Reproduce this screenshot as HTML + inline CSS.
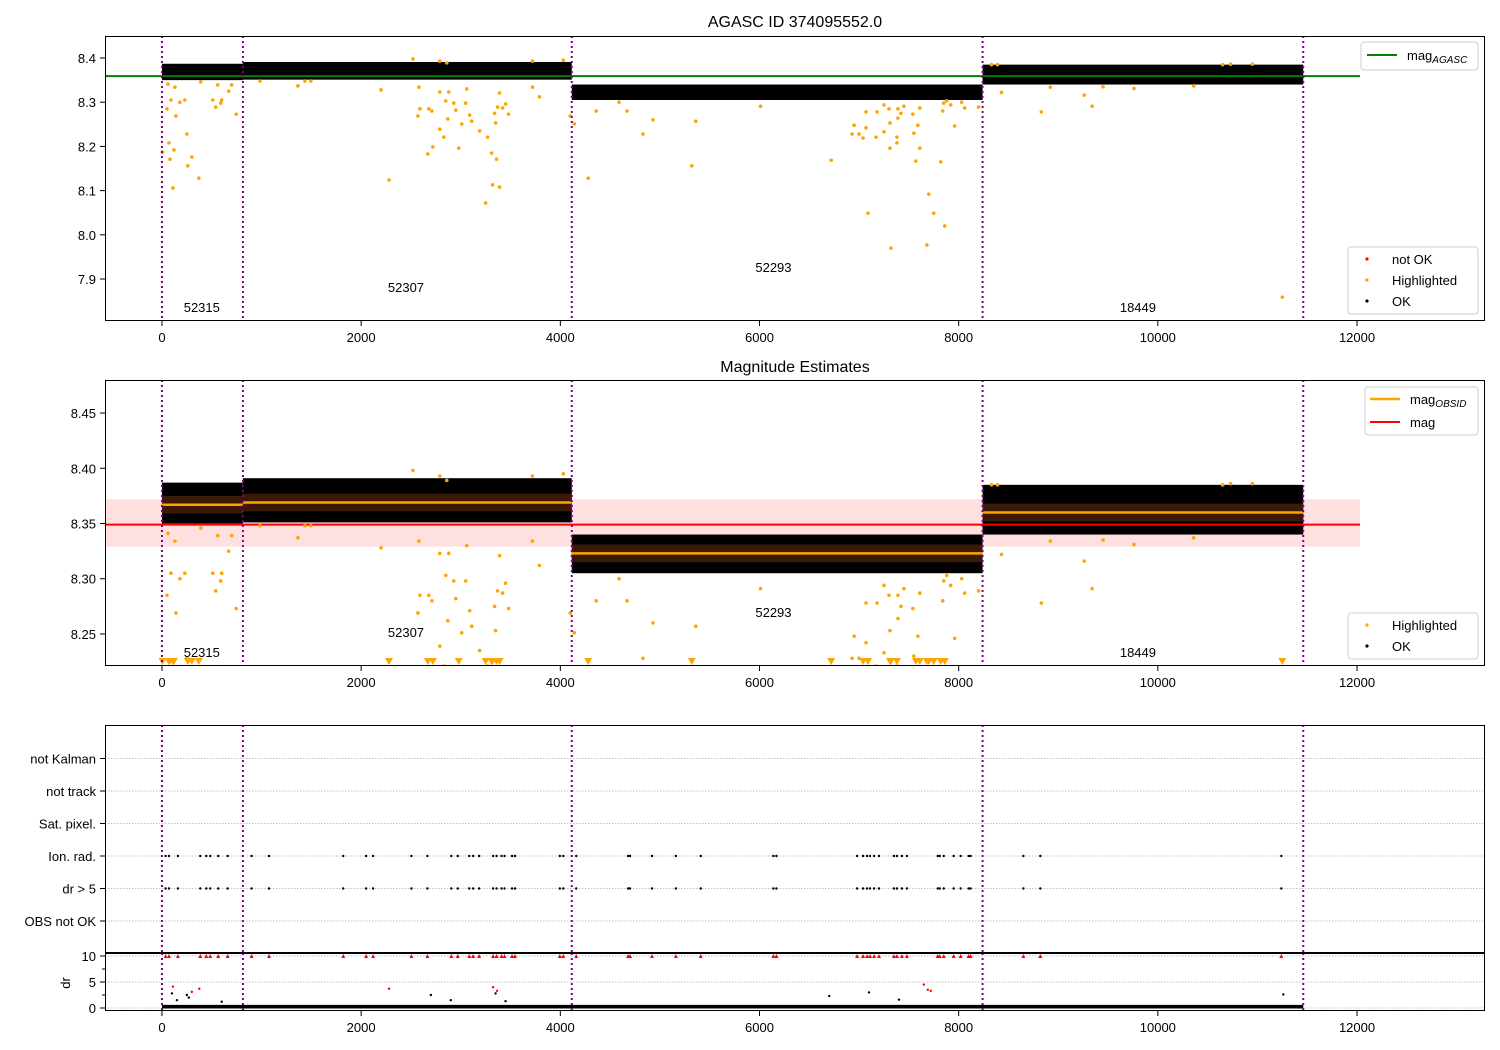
<!DOCTYPE html>
<html><head><meta charset="utf-8"><style>
html,body{margin:0;padding:0;background:#fff;}
svg{display:block;font-family:"Liberation Sans","DejaVu Sans",sans-serif;}
</style></head><body>
<svg id="chart" width="1500" height="1050" viewBox="0 0 1500 1050" xmlns="http://www.w3.org/2000/svg"></svg>
<script>
// ---- data ----
const obsidBoundaries = [0, 813, 4115, 8240, 11460];
const obsidLabels = ["52315", "52307", "52293", "18449"];
const obsidLabelTimes = [400, 2450, 6140, 9800];
const segMean = [8.367, 8.369, 8.323, 8.360];
const segHigh = [8.387, 8.391, 8.340, 8.385];
const segLow = [8.350, 8.351, 8.305, 8.340];
const magAgasc = 8.359;
const magMean = 8.349;
const magBandLow = 8.329;
const magBandHigh = 8.372;
const hlTimes = [60,90,130,50,140,180,230,70,120,80,5,250,300,260,370,110,510,540,590,600,670,700,745,560,390,985,1365,1435,1495,2200,2280,2520,
 2570,2590,2580,2680,2710,2670,2720,2790,2830,2870,2850,2930,2950,2980,3010,3050,3090,3110,3190,3250,3270,3310,3320,3350,3360,3390,3340,3370,3420,3480,3450,3390,3720,3790,2790,2880,3060,2790,2860,3720,4030,
 4100,4140,4280,4360,4590,4670,4830,4930,5320,5360,6010,6720,6930,6950,7000,7040,7070,7070,7090,7170,7180,7250,7250,7300,7310,7310,7320,7390,7390,7380,7380,7420,7450,7540,7550,7570,7590,7610,7610,7680,7700,7750,7820,7840,7860,7850,7880,7920,7960,8030,8060,8200,
 8430,9260,9340,8830,9450,9760,10360,8920,11250,10650,10730,10950,8330,8390];
const hlMags = [8.341,8.305,8.334,8.285,8.269,8.300,8.305,8.208,8.192,8.171,8.187,8.228,8.176,8.156,8.128,8.106,8.305,8.289,8.298,8.305,8.325,8.339,8.273,8.339,8.346,8.348,8.337,8.348,8.348,8.328,8.124,8.398,
 8.269,8.285,8.334,8.285,8.280,8.183,8.199,8.239,8.221,8.262,8.303,8.298,8.282,8.196,8.251,8.298,8.271,8.257,8.235,8.072,8.221,8.185,8.113,8.253,8.171,8.108,8.275,8.289,8.287,8.273,8.296,8.321,8.334,8.312,8.323,8.323,8.330,8.393,8.389,8.393,8.395,
 8.269,8.251,8.128,8.280,8.300,8.280,8.228,8.260,8.156,8.257,8.291,8.169,8.228,8.248,8.228,8.219,8.278,8.242,8.049,8.221,8.278,8.233,8.294,8.285,8.253,8.196,7.970,8.285,8.264,8.221,8.208,8.275,8.291,8.273,8.230,8.167,8.248,8.287,8.196,7.977,8.092,8.049,8.165,8.280,8.020,8.298,8.303,8.294,8.246,8.300,8.287,8.289,
 8.322,8.316,8.291,8.278,8.335,8.331,8.337,8.334,7.859,8.385,8.386,8.386,8.385,8.385];
const flagTimes = [37,70,160,385,445,485,565,660,900,1075,1820,2050,2120,2505,2665,2905,2970,3085,3125,3185,3325,3360,3410,3440,3515,3545,3995,4030,4160,4680,4700,4920,5160,5410,6140,6170,6980,7040,7080,7110,7150,7200,7350,7380,7430,7480,7790,7810,7850,7950,8020,8100,8120,8650,8820,11240];
const flagCategories = ["OBS not OK","dr > 5","Ion. rad.","Sat. pixel.","not track","not Kalman"];
const redDrTimes = [110,300,375,2280,3325,3365,7650,7690,7720];
const redDrValues = [4.1,3.1,3.7,3.7,4.0,3.3,4.5,3.5,3.3];
const okDrTimes = [100,150,250,270,600,2700,3350,6700,7100,11260,2900,3450,7400];
const okDrValues = [2.8,1.5,2.5,2.0,1.2,2.5,2.8,2.3,3.0,2.6,1.5,1.3,1.6];
const xTicks = [0,2000,4000,6000,8000,10000,12000];
const y1Ticks = [7.9,8.0,8.1,8.2,8.3,8.4];
const y2Ticks = [8.25,8.30,8.35,8.40,8.45];
const drTicks = [0,5,10];

// ---- geometry ----
const svg = document.getElementById('chart');
const NS = 'http://www.w3.org/2000/svg';
const X0 = 105, X1 = 1485, TMIN = -572, TMAX = 13285;
const xs = t => X0 + (t - TMIN) / (TMAX - TMIN) * (X1 - X0);
const P1 = {top:36, bot:321, lo:7.805, hi:8.4498};
const P2 = {top:380, bot:666, lo:8.221, hi:8.4799};
const P3 = {top:725, bot:953};
const P4 = {top:953, bot:1011, lo:-0.58, hi:10.58};
const ys = (p, v) => p.bot - (v - p.lo) / (p.hi - p.lo) * (p.bot - p.top);
const catY = i => 921 - i * 32.5;

function mk(tag, attrs, parent) {
  const e = document.createElementNS(NS, tag);
  for (const k in attrs) e.setAttribute(k, attrs[k]);
  (parent || svg).appendChild(e);
  return e;
}
function txt(x, y, s, size, anchor, parent) {
  const e = mk('text', {x:x, y:y, 'font-size':size, 'text-anchor':anchor || 'middle', fill:'#000'}, parent);
  e.textContent = s;
  return e;
}
function clip(id, p) {
  const c = mk('clipPath', {id:id});
  mk('rect', {x:X0, y:p.top, width:X1-X0, height:p.bot-p.top}, c);
}
clip('c1', P1); clip('c2', P2); clip('c3', P3); clip('c4', P4);

function xAxis(p, labels) {
  xTicks.forEach(t => {
    const x = xs(t);
    mk('line', {x1:x, x2:x, y1:p.bot, y2:p.bot+5, stroke:'#000', 'stroke-width':1});
    if (labels) {
      const e = txt(x, p.bot+21, String(t), 13);
      
      
    }
  });
}
function yAxis(p, ticks, dec) {
  ticks.forEach(v => {
    const y = ys(p, v);
    mk('line', {x1:X0-5, x2:X0, y1:y, y2:y, stroke:'#000'});
    const e = txt(X0-9, y+5, v.toFixed(dec), 13, 'end');
    
    
  });
}
function boundaries(p) {
  obsidBoundaries.forEach(t => {
    const l = mk('line', {x1:xs(t), x2:xs(t), y1:p.top, y2:p.bot, stroke:'#800080', 'stroke-width':2, 'stroke-dasharray':'2,3'});
    
    
  });
}
function frame(p, name) {
  const r = mk('rect', {x:X0+0.5, y:p.top+0.5, width:X1-X0-1, height:p.bot-p.top-1, fill:'none', stroke:'#000', 'stroke-width':1});
  
  
}
function legendBox(x, y, w, h, name) {
  const g = mk('g', {});
  
  
  mk('rect', {x:x, y:y, width:w, height:h, rx:3, fill:'#fff', 'fill-opacity':0.85, stroke:'#ccc'}, g);
  return g;
}

// titles
let t1 = txt(795, 27, 'AGASC ID 374095552.0', 16);


let t2 = txt(795, 372, 'Magnitude Estimates', 16);



// ===== Panel 1 =====
const g1 = mk('g', {'clip-path':'url(#c1)'});


for (let i = 0; i < segMean.length; i++) {
  const x1 = xs(obsidBoundaries[i]), x2 = xs(obsidBoundaries[i+1]);
  const b = mk('rect', {x:x1, y:ys(P1, segHigh[i]), width:x2-x1, height:ys(P1, segLow[i]) - ys(P1, segHigh[i]), fill:'#000'}, g1);
  
  
}
const gl = mk('line', {x1:X0, x2:xs(12030), y1:ys(P1, magAgasc), y2:ys(P1, magAgasc), stroke:'#008000', 'stroke-width':2}, g1);


hlTimes.forEach((t, i) => {
  const c = mk('circle', {cx:xs(t), cy:ys(P1, hlMags[i]), r:1.8, fill:'#ffa500'}, g1);
  
  
});
boundaries(P1);
obsidLabels.forEach((s, i) => {
  const e = txt(xs(obsidLabelTimes[i]), [312, 292, 272, 312][i], s, 13);
  
  
});
frame(P1, 'agasc-axes');
xAxis(P1, true);
yAxis(P1, y1Ticks, 1);
{
  const g = legendBox(1361, 42, 117, 28, 'agasc-legend');
  mk('line', {x1:1367, x2:1397, y1:55, y2:55, stroke:'#008000', 'stroke-width':2}, g);
  const e = txt(1407, 60, 'mag', 13, 'start', g);
  const s = mk('tspan', {'font-size':10, 'font-style':'italic', dy:3}, e); s.textContent = 'AGASC';
}
{
  const g = legendBox(1348, 247, 130, 67, 'status-legend');
  [['#ff0000','not OK',259],['#ffa500','Highlighted',280],['#000','OK',301]].forEach(d => {
    mk('circle', {cx:1367, cy:d[2], r:1.6, fill:d[0]}, g);
    txt(1392, d[2]+5, d[1], 13, 'start', g);
  });
}

// ===== Panel 2 =====
const g2 = mk('g', {'clip-path':'url(#c2)'});


const pb = mk('rect', {x:X0, y:ys(P2, magBandHigh), width:xs(12030)-X0, height:ys(P2, magBandLow)-ys(P2, magBandHigh), fill:'#ff0000', 'fill-opacity':0.12}, g2);


for (let i = 0; i < segMean.length; i++) {
  const x1 = xs(obsidBoundaries[i]), x2 = xs(obsidBoundaries[i+1]);
  const b = mk('rect', {x:x1, y:ys(P2, segHigh[i]), width:x2-x1, height:ys(P2, segLow[i]) - ys(P2, segHigh[i]), fill:'#000'}, g2);
  
  
  const core = mk('rect', {x:x1, y:ys(P2, segMean[i]+0.008), width:x2-x1, height:ys(P2, segMean[i]-0.008)-ys(P2, segMean[i]+0.008), fill:'#3a1a05'}, g2);
  
  
}
const rl = mk('line', {x1:X0, x2:xs(12030), y1:ys(P2, magMean), y2:ys(P2, magMean), stroke:'#ff0000', 'stroke-width':2}, g2);


for (let i = 0; i < segMean.length; i++) {
  const l = mk('line', {x1:xs(obsidBoundaries[i]), x2:xs(obsidBoundaries[i+1]), y1:ys(P2, segMean[i]), y2:ys(P2, segMean[i]), stroke:'#ffa500', 'stroke-width':2.5}, g2);
  
  
}
hlTimes.forEach((t, i) => {
  const x = xs(t);
  if (hlMags[i] < P2.lo) {
    const y = P2.bot - 5;
    const tri = mk('path', {d:`M${x-4},${y-3}L${x+4},${y-3}L${x},${y+4}Z`, fill:'#ffa500'}, g2);
    
    
  } else {
    const c = mk('circle', {cx:x, cy:ys(P2, hlMags[i]), r:1.8, fill:'#ffa500'}, g2);
    
    
  }
});
boundaries(P2);
obsidLabels.forEach((s, i) => {
  const e = txt(xs(obsidLabelTimes[i]), [657, 637, 617, 657][i], s, 13);
  
  
});
frame(P2, 'estimates-axes');
xAxis(P2, true);
yAxis(P2, y2Ticks, 2);
{
  const g = legendBox(1365, 387, 113, 48, 'estimates-legend');
  mk('line', {x1:1370, x2:1400, y1:399, y2:399, stroke:'#ffa500', 'stroke-width':2.5}, g);
  const e = txt(1410, 404, 'mag', 13, 'start', g);
  const s = mk('tspan', {'font-size':10, 'font-style':'italic', dy:3}, e); s.textContent = 'OBSID';
  mk('line', {x1:1370, x2:1400, y1:422, y2:422, stroke:'#ff0000', 'stroke-width':2}, g);
  txt(1410, 427, 'mag', 13, 'start', g);
}
{
  const g = legendBox(1348, 613, 130, 46, 'estimates-status-legend');
  [['#ffa500','Highlighted',625],['#000','OK',646]].forEach(d => {
    mk('circle', {cx:1367, cy:d[2], r:1.6, fill:d[0]}, g);
    txt(1392, d[2]+5, d[1], 13, 'start', g);
  });
}

// ===== Panel 3 (flags) =====
flagCategories.forEach((c, i) => {
  const y = catY(i);
  const l = mk('line', {x1:X0, x2:X1, y1:y, y2:y, stroke:'#b0b0b0', 'stroke-width':0.8, 'stroke-dasharray':'1.5,1.5'});
  
  
  mk('line', {x1:X0-5, x2:X0, y1:y, y2:y, stroke:'#000'});
  const e = txt(X0-9, y+5, c, 13, 'end');
  
  
});
const g3 = mk('g', {'clip-path':'url(#c3)'});
[1, 2].forEach(ci => {
  flagTimes.forEach(t => {
    const c = mk('circle', {cx:xs(t), cy:catY(ci), r:1.2, fill:'#000'}, g3);
    
    
  });
});
boundaries(P3);
frame(P3, 'flags-axes');

// ===== Panel 4 (dr) =====
[0, 5, 10].forEach(v => {
  const y = ys(P4, v);
  mk('line', {x1:X0, x2:X1, y1:y, y2:y, stroke:'#b0b0b0', 'stroke-width':0.8, 'stroke-dasharray':'1.5,1.5'});
});
const g4 = mk('g', {'clip-path':'url(#c4)'});
const base = mk('rect', {x:xs(0), y:ys(P4, 0.6), width:xs(obsidBoundaries[4])-xs(0), height:ys(P4, -0.1)-ys(P4, 0.6), fill:'#000'}, g4);


okDrTimes.forEach((t, i) => {
  const c = mk('circle', {cx:xs(t), cy:ys(P4, okDrValues[i]), r:1.2, fill:'#000'}, g4);
  
  
});
flagTimes.forEach(t => {
  const x = xs(t), y = ys(P4, 10);
  const tri = mk('path', {d:`M${x-2},${y+2}L${x+2},${y+2}L${x},${y-2}Z`, fill:'#ff0000'}, g4);
  
  
});
redDrTimes.forEach((t, i) => {
  const c = mk('circle', {cx:xs(t), cy:ys(P4, redDrValues[i]), r:1.2, fill:'#ff0000'}, g4);
  
  
});
boundaries(P4);
frame(P4, 'dr-axes');
mk('line', {x1:X0, x2:X1, y1:P4.top+0.5, y2:P4.top+0.5, stroke:'#000'});
drTicks.forEach(v => {
  const y = ys(P4, v);
  mk('line', {x1:X0-5, x2:X0, y1:y, y2:y, stroke:'#000'});
  const e = txt(X0-9, y+5, String(v), 13, 'end');
  
  
});
[2.5, 7.5].forEach(v => { const y = ys(P4, v); mk('line', {x1:X0-3, x2:X0, y1:y, y2:y, stroke:'#000'}); });
const dl = txt(0, 0, 'dr', 13);
dl.setAttribute('transform', 'translate(70,983) rotate(-90)');


xAxis(P4, true);
</script>
</body></html>
